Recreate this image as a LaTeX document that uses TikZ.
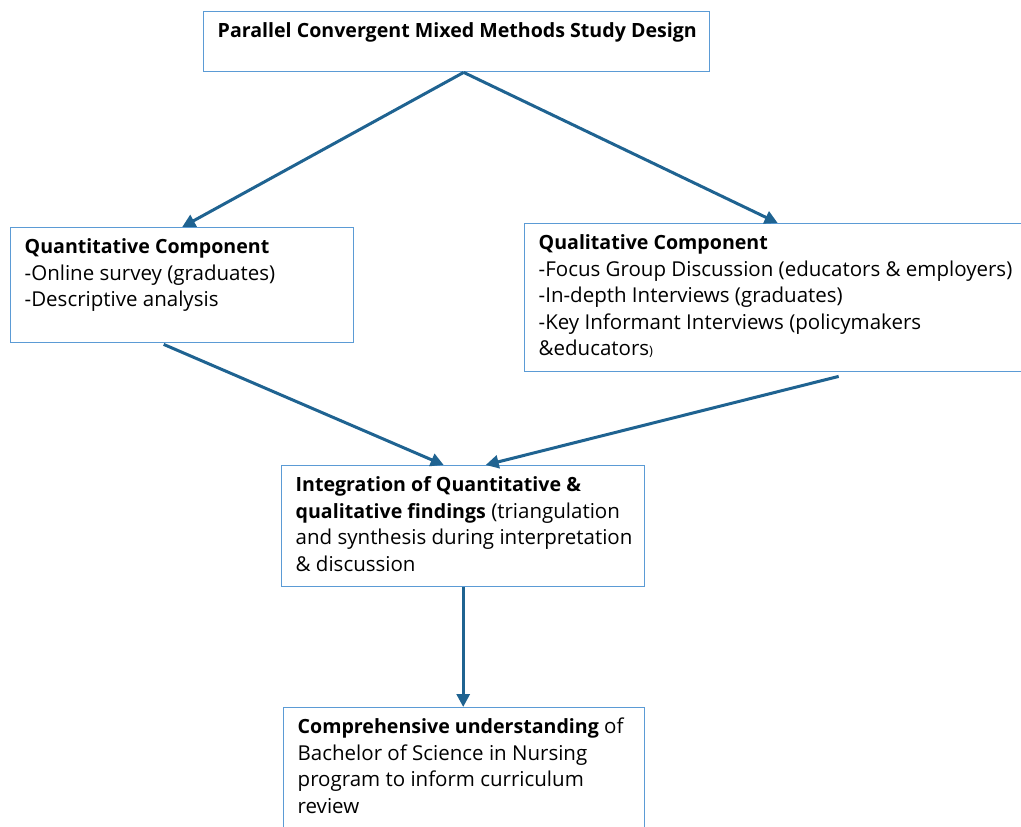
\documentclass[tikz,border=0pt]{standalone}
\usepackage{fontspec}
\setmainfont{Open Sans}
\usetikzlibrary{arrows.meta,calc}
\definecolor{boxblue}{HTML}{5B9BD5}
\definecolor{arrowblue}{HTML}{1F6391}
\newcommand{\bx}[3]{\parbox[t][#2][t]{#1}{\raggedright #3}}
\newcommand{\hd}[1]{{\fontsize{19.6}{26.5}\selectfont\bfseries #1}}
\begin{document}
\begin{tikzpicture}[x=1pt,y=-1pt,
  box/.style={draw=boxblue, line width=1.4pt, rectangle, anchor=north west,
    inner xsep=14pt, inner ysep=7.5pt, text=black,
    font=\fontsize{20.5}{26.5}\selectfont},
  conn/.style={draw=arrowblue, line width=3pt, -{Triangle[length=13pt,width=13pt]}}]
\useasboundingbox (0,0) rectangle (1021,827);
\clip (0,0) rectangle (1021,827);

\node[box] (top) at (203,11) {\bx{478pt}{45pt}{\mbox{\strut\hd{Parallel Convergent Mixed Methods Study Design}}}};

\node[box] (quant) at (10,227) {\bx{315pt}{100pt}{%
\mbox{\strut\hd{Quantitative Component}}\\
\mbox{-Online survey (graduates)}\\
\mbox{-Descriptive analysis}}};

\node[box] (qual) at (524,223) {\bx{478pt}{133pt}{%
\mbox{\strut\hd{Qualitative Component}}\\
\mbox{-Focus Group Discussion (educators \& employers)}\\
\mbox{-In-depth Interviews (graduates)}\\
\mbox{-Key Informant Interviews (policymakers}\\
\mbox{\&educators{\fontsize{13}{15}\selectfont)}}}};

\node[box] (integ) at (281,465) {\bx{335pt}{106pt}{%
\mbox{\strut\hd{Integration of Quantitative \&}}\\
\mbox{\hd{qualitative findings} (triangulation}\\
\mbox{and synthesis during interpretation}\\
\mbox{\& discussion}}};

\node[box] (comp) at (283,707) {\bx{333pt}{118pt}{%
\mbox{\strut\hd{Comprehensive understanding} of}\\
\mbox{Bachelor of Science in Nursing}\\
\mbox{program to inform curriculum}\\
\mbox{review}}};

\draw[conn] ([xshift=7pt]top.south) -- (quant.north);
\draw[conn] ([xshift=7pt]top.south) -- (qual.north);
\draw[conn] ([xshift=-18.5pt,yshift=-1pt]quant.south) -- ([xshift=-19.5pt]integ.north);
\draw[conn] ([xshift=61pt,yshift=-4pt]qual.south) -- ([xshift=22.5pt]integ.north);
\draw[conn] (integ.south) -- (integ.south |- comp.north);
\end{tikzpicture}
\end{document}
